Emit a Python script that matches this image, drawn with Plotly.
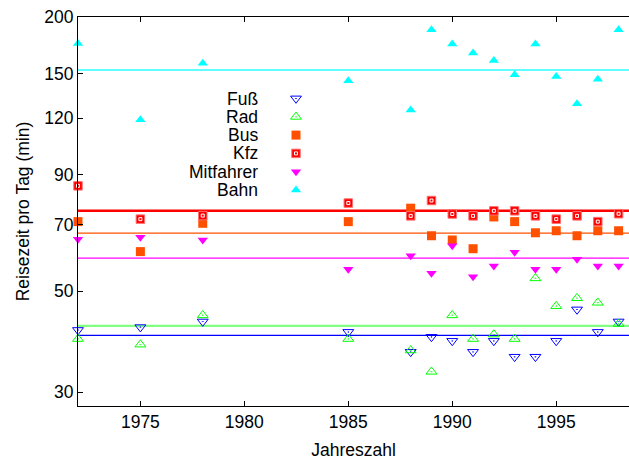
import math
import plotly.graph_objects as go

# ---- data ----
years_all = [1972, 1975, 1978, 1985, 1988, 1989, 1990, 1991, 1992, 1993, 1994, 1995, 1996, 1997, 1998]

fuss = [41.1, 41.7, 42.9, 40.7, 36.8, 39.7, 38.9, 36.8, 38.9, 35.9, 35.9, 38.9, 45.6, 40.7, 42.9]
rad = [39.3, 38.2, 44.3, 39.3, 37.1, 33.3, 44.3, 39.3, 40.2, 39.3, 53.4, 46.4, 48.3, 47.2, 42.4]
bus = [71.1, 61.1, 70.5, 71.1, 76.1, 66.2, 64.8, 62.0, 72.8, 71.1, 67.2, 67.9, 66.2, 67.9, 67.9]
kfz = [85.2, 72.0, 73.3, 78.1, 73.2, 79.1, 73.9, 73.2, 75.1, 75.1, 73.2, 72.0, 73.2, 71.1, 74.0]
mitfahrer = [65.0, 65.7, 64.8, 55.9, 59.8, 54.8, 62.9, 53.8, 56.8, 60.9, 55.9, 55.9, 58.8, 56.8, 56.8]
bahn = [175.0, 119.0, 158.4, 145.0, 125.0, 187.5, 174.5, 166.7, 160.6, 149.3, 174.5, 148.0, 129.0, 146.0, 187.5]

series_names = ["Fuß", "Rad", "Bus", "Kfz", "Mitfahrer", "Bahn"]
mean_values = [40.0, 42.0, 67.1, 75.1, 59.1, 153.0]

x_range = [1972, 1998.5]
y_range = [28, 200]
x_ticks = [1975, 1980, 1985, 1990, 1995]
y_ticks = [30, 50, 70, 90, 120, 150, 200]

# ---- styles ----
FONT = "Liberation Sans"
FS = 17.5
colors = ["#0000ff", "#00ff00", "#ff5000", "#ff0000", "#ff00ff", "#00ffff"]
line_colors = ["#0000ff", "#80ff80", "#ff5000", "#ff0000", "#ff00ff", "#60ffff"]
line_widths = [1.2, 2.2, 1.2, 2.6, 1.2, 2.2]
symbols = ["triangle-down-open-dot", "triangle-up-open-dot", "square", "square",
           "triangle-down", "triangle-up"]
sizes = [9.5, 9.5, 9, 8.5, 9, 9]
data = [fuss, rad, bus, kfz, mitfahrer, bahn]


def marker_for(name, s, c, sz):
    if "open" in s:
        return dict(symbol=s, size=sz, color=c, line=dict(color=c, width=1))
    if name == "Kfz":
        return dict(symbol=s, size=sz, color=c, line=dict(color="#ff7070", width=1))
    return dict(symbol=s, size=sz, color=c, line=dict(width=0))


inner_mark = dict(symbol="square-open", size=3, color="white", line=dict(color="white", width=1))

fig = go.Figure()

# mean lines
for name, m, lc, lw in zip(series_names, mean_values, line_colors, line_widths):
    fig.add_trace(go.Scatter(x=x_range, y=[m, m], mode="lines",
                             line=dict(color=lc, width=lw), showlegend=False,
                             hoverinfo="skip"))

# data points
for name, vals, c, s, sz in zip(series_names, data, colors, symbols, sizes):
    fig.add_trace(go.Scatter(x=years_all, y=vals, mode="markers", name=name,
                             marker=marker_for(name, s, c, sz), showlegend=False,
                             cliponaxis=False))
    if name == "Kfz":
        fig.add_trace(go.Scatter(x=years_all, y=vals, mode="markers", marker=inner_mark,
                                 showlegend=False, hoverinfo="skip", cliponaxis=False))

# manual gnuplot-style key (text right-aligned, symbol to the right)
L, R, T, B = 78, 629, 17, 406
key_text_x = 260
key_sym_x = 296
key_y0 = 98.5
key_dy = 18.3
key_ys = [key_y0 + i * key_dy for i in range(len(series_names))]
for i, (name, c, s, sz) in enumerate(zip(series_names, colors, symbols, sizes)):
    fig.add_trace(go.Scatter(x=[key_sym_x], y=[key_ys[i]], xaxis="x2", yaxis="y2",
                             mode="markers", marker=marker_for(name, s, c, sz),
                             showlegend=False, hoverinfo="skip"))
    if name == "Kfz":
        fig.add_trace(go.Scatter(x=[key_sym_x], y=[key_ys[i]], xaxis="x2", yaxis="y2",
                                 mode="markers", marker=inner_mark,
                                 showlegend=False, hoverinfo="skip"))
    fig.add_annotation(x=key_text_x, y=key_ys[i], xref="x2", yref="y2", text=name,
                       showarrow=False, xanchor="right", yanchor="middle",
                       font=dict(family=FONT, size=FS, color="black"))

fig.update_layout(
    width=629, height=464,
    margin=dict(l=L, r=629 - R, t=T, b=464 - B),
    paper_bgcolor="white", plot_bgcolor="white",
    showlegend=False,
    font=dict(family=FONT, size=FS, color="black"),
    xaxis=dict(range=x_range, tickvals=x_ticks, ticks="inside", ticklen=5,
               tickcolor="black", showline=True, linecolor="black", linewidth=1,
               mirror="ticks", showgrid=False, zeroline=False,
               title=dict(text="Jahreszahl", font=dict(family=FONT, size=FS), standoff=12),
               tickfont=dict(family=FONT, size=FS)),
    yaxis=dict(type="log", range=[math.log10(y_range[0]), math.log10(y_range[1])],
               tickvals=y_ticks, ticktext=[str(v) for v in y_ticks],
               ticks="inside", ticklen=5, tickcolor="black",
               showline=True, linecolor="black", linewidth=1, mirror=False,
               showgrid=False, zeroline=False,
               title=dict(text="Reisezeit pro Tag (min)", font=dict(family=FONT, size=FS),
                          standoff=10),
               tickfont=dict(family=FONT, size=FS)),
    xaxis2=dict(range=[L, R], overlaying="x", visible=False, fixedrange=True),
    yaxis2=dict(range=[B, T], overlaying="y", visible=False, fixedrange=True),
)

fig.write_html("out.html")
